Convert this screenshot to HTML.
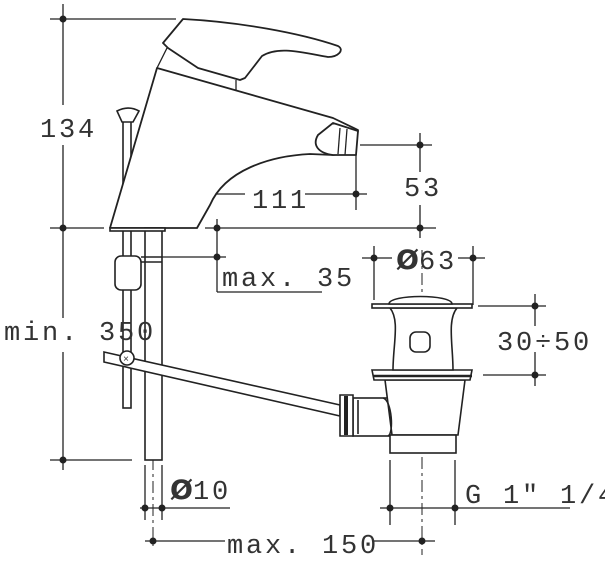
<!DOCTYPE html>
<html><head><meta charset="utf-8"><style>
html,body{margin:0;padding:0;background:#fff;}
svg{display:block}
text{font-family:"Liberation Mono",monospace;font-size:27px;fill:#333;letter-spacing:2.8px}
</style></head><body>
<svg width="605" height="563" viewBox="0 0 605 563" xmlns="http://www.w3.org/2000/svg">
<g fill="none" stroke="#222" stroke-width="1.3">
<line x1="50" y1="19" x2="176" y2="19"/>
<line x1="63" y1="4" x2="63" y2="105"/>
<line x1="63" y1="145" x2="63" y2="318"/>
<line x1="63" y1="352" x2="63" y2="470"/>
<line x1="50" y1="228" x2="104" y2="228"/>
<line x1="205" y1="228" x2="436" y2="228"/>
<line x1="50" y1="460" x2="132" y2="460"/>
<line x1="182" y1="194" x2="245" y2="194"/>
<line x1="305" y1="194" x2="367" y2="194"/>
<line x1="197" y1="183" x2="197" y2="228"/>
<line x1="356" y1="146" x2="356" y2="210"/>
<line x1="360" y1="145" x2="432" y2="145"/>
<line x1="420" y1="133" x2="420" y2="172"/>
<line x1="420" y1="205" x2="420" y2="238"/>
<line x1="217" y1="219" x2="217" y2="292"/>
<line x1="150" y1="257" x2="226" y2="257"/>
<line x1="217" y1="292" x2="322" y2="292"/>
<line x1="362" y1="258" x2="392" y2="258"/>
<line x1="458" y1="258" x2="485" y2="258"/>
<line x1="374" y1="246" x2="374" y2="300"/>
<line x1="473" y1="246" x2="473" y2="305"/>
<line x1="478" y1="306" x2="546" y2="306"/>
<line x1="483" y1="375" x2="546" y2="375"/>
<line x1="535" y1="294" x2="535" y2="326"/>
<line x1="535" y1="352" x2="535" y2="386"/>
<line x1="145" y1="465" x2="145" y2="520"/>
<line x1="162" y1="465" x2="162" y2="520"/>
<line x1="140" y1="508" x2="230" y2="508"/>
<line x1="390" y1="460" x2="390" y2="525"/>
<line x1="455" y1="460" x2="455" y2="525"/>
<line x1="380" y1="508" x2="570" y2="508"/>
<line x1="145" y1="541" x2="225" y2="541"/>
<line x1="372" y1="541" x2="435" y2="541"/>
<line x1="153" y1="320" x2="153" y2="550" stroke-dasharray="12,4,3,4" stroke-width="1"/>
<line x1="422" y1="250" x2="422" y2="555" stroke-dasharray="12,4,3,4" stroke-width="1"/>
</g>
<g fill="#222">
<circle cx="63" cy="19" r="3.5"/><circle cx="63" cy="228" r="3.5"/><circle cx="63" cy="460" r="3.5"/>
<circle cx="197" cy="194" r="3.5"/><circle cx="356" cy="194" r="3.5"/>
<circle cx="420" cy="145" r="3.5"/><circle cx="420" cy="228" r="3.5"/>
<circle cx="217" cy="228" r="3.5"/><circle cx="217" cy="257" r="3.5"/>
<circle cx="374" cy="258" r="3.5"/><circle cx="473" cy="258" r="3.5"/>
<circle cx="535" cy="306" r="3.5"/><circle cx="535" cy="375" r="3.5"/>
<circle cx="145" cy="508" r="3.5"/><circle cx="162" cy="508" r="3.5"/>
<circle cx="390" cy="508" r="3.5"/><circle cx="455" cy="508" r="3.5"/>
<circle cx="153" cy="541" r="3.5"/><circle cx="422" cy="541" r="3.5"/>
</g>
<g fill="#fff" stroke="#222" stroke-width="1.6">
<rect x="123" y="121" width="8" height="287"/>
<path d="M117,111 C125,107 132,107 139,111 L133,122 L122,122 Z"/>
</g>
<g fill="#fff" stroke="#222" stroke-width="1.8" stroke-linejoin="round">
<path d="M157,68 L333,118 L358,130 L355,152 L333,155 L310,154 C270,156 225,170 210,205 L197,228 L110,228 Z"/>
<path d="M183,19 C240,22 300,33 338,46 C345,50 338,57 328,57 C300,52 278,46 262,56 L245,78 L240,80 L198,68 L168,48 L163,43 Z"/>
<path d="M333,123 L358,131 L356,155 L333,155 C318,153 312,145 318,135 Z"/>
</g>
<g fill="none" stroke="#222" stroke-width="1.3">
<line x1="236" y1="80" x2="236" y2="90"/>
<line x1="340" y1="128" x2="338" y2="154"/>
<line x1="347" y1="129" x2="345" y2="155"/>
<line x1="167" y1="48" x2="157" y2="68"/>
</g>
<g fill="#fff" stroke="#222" stroke-width="1.6">
<rect x="145" y="228" width="17" height="232"/>
<rect x="115" y="256" width="26" height="34" rx="6"/>
<rect x="110" y="228" width="55" height="3"/>
<line x1="141" y1="257" x2="162" y2="257"/>
<line x1="141" y1="262" x2="162" y2="262"/>
<path d="M104,352 L340,405 L340,416 L104,362 Z"/>
<circle cx="127" cy="358" r="7"/>
<rect x="353" y="398" width="40" height="38"/>
<path d="M340,395 L353,395 L353,436 L340,436 Z"/>
<path d="M385,380 L465,380 L458,435 L392,435 Z"/>
<path d="M383,398 C392,400 394,434 388,436" fill="none"/>
<line x1="358" y1="400" x2="358" y2="434"/>
<rect x="390" y="435" width="66" height="18"/>
<path d="M372,370 L472,370 L470,380 L374,380 Z"/>
<path d="M390,308 C400,320 393,345 393,370 L453,370 C453,345 447,320 457,308 Z"/>
<rect x="372" y="304" width="100" height="4"/>
<path d="M389,304 C389,294 452,294 452,304 Z"/>
<rect x="410" y="332" width="20" height="20" rx="6"/>
</g>
<line x1="346" y1="396" x2="346" y2="435" stroke="#222" stroke-width="4"/>
<line x1="373" y1="376" x2="472" y2="376" stroke="#222" stroke-width="2.5"/>
<text x="123" y="362" style="font-size:10px;letter-spacing:0">×</text>
<text x="40" y="137">134</text>
<text x="252" y="208">111</text>
<text x="404" y="196">53</text>
<text x="222" y="286">max. 35</text>
<text x="396" y="269"><tspan style="font-weight:bold;font-family:'DejaVu Sans',sans-serif;letter-spacing:0">Ø</tspan>63</text>
<text x="497" y="350">30÷50</text>
<text x="4" y="340">min. 350</text>
<text x="170" y="499"><tspan style="font-weight:bold;font-family:'DejaVu Sans',sans-serif;letter-spacing:0">Ø</tspan>10</text>
<text x="465" y="503">G 1" 1/4</text>
<text x="227" y="553">max. 150</text>
</svg>
</body></html>
